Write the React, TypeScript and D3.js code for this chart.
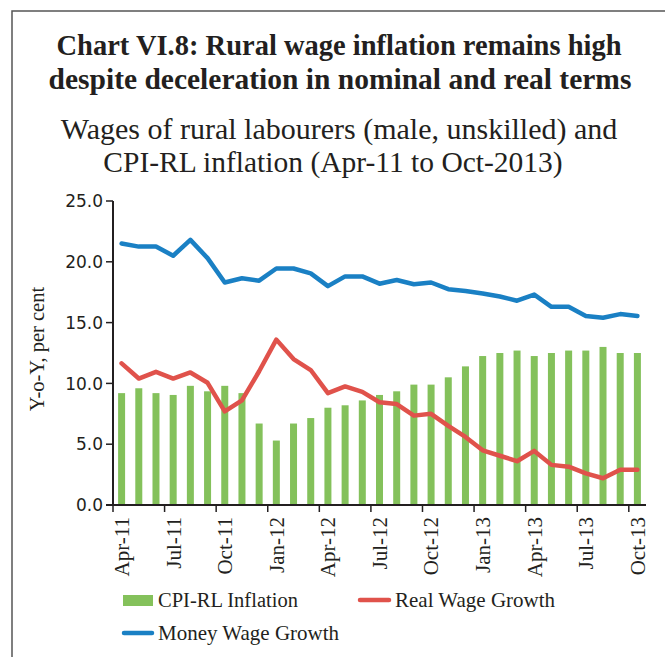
import React from "react";
import * as d3 from "d3";

const months = ["Apr-11","May-11","Jun-11","Jul-11","Aug-11","Sep-11","Oct-11","Nov-11","Dec-11","Jan-12","Feb-12","Mar-12","Apr-12","May-12","Jun-12","Jul-12","Aug-12","Sep-12","Oct-12","Nov-12","Dec-12","Jan-13","Feb-13","Mar-13","Apr-13","May-13","Jun-13","Jul-13","Aug-13","Sep-13","Oct-13"];
const cpiRL = [9.2,9.6,9.2,9.05,9.8,9.35,9.8,9.2,6.7,5.3,6.7,7.15,8.0,8.2,8.6,9.05,9.35,9.9,9.9,10.5,11.4,12.25,12.5,12.7,12.25,12.5,12.7,12.7,13.0,12.5,12.5];
const realWage = [11.65,10.4,10.95,10.4,10.9,10.05,7.7,8.6,11.0,13.6,12.0,11.1,9.2,9.75,9.3,8.45,8.3,7.35,7.5,6.5,5.6,4.5,4.05,3.6,4.45,3.3,3.15,2.6,2.2,2.9,2.9];
const moneyWage = [21.5,21.25,21.25,20.5,21.8,20.3,18.3,18.65,18.45,19.45,19.45,19.05,18.0,18.8,18.8,18.2,18.5,18.15,18.3,17.75,17.6,17.4,17.15,16.8,17.3,16.3,16.3,15.55,15.4,15.7,15.55];
const yTicks = [0, 5, 10, 15, 20, 25];

const GREEN = "#84c15b";
const RED = "#e0524b";
const BLUE = "#1a80c4";
const serif = "'Liberation Serif', 'DejaVu Serif', serif";
const sans = "'DejaVu Sans', Verdana, sans-serif";

export default function App() {
  const W = 665, H = 657;
  const x0 = 113, x1 = 646, yTop = 201, yBot = 505;
  const xb = d3.scaleBand<string>().domain(months).range([x0, x1]);
  const y = d3.scaleLinear().domain([0, 25]).range([yBot, yTop]);
  const cx = (m: string) => (xb(m) as number) + xb.bandwidth() / 2;
  const line = d3.line<number>().x((_, i) => cx(months[i])).y(d => y(d));
  const tickIdx = months.map((_, i) => i).filter(i => i % 3 === 0);

  return (
    <svg width={W} height={H} style={{ position: "absolute", left: 0, top: 0, background: "#fff" }}>
      <rect x={0} y={0} width={W} height={H} fill="#fff" />
      {/* frame */}
      <path d={`M12,${H} L12,11 L${W},11`} fill="none" stroke="#555" strokeWidth={1.5} />
      {/* titles */}
      <text x={339} y={55} textAnchor="middle" fontFamily={serif} fontWeight="bold" fontSize={28.5} fill="#231f20">Chart VI.8: Rural wage inflation remains high</text>
      <text x={340} y={89} textAnchor="middle" fontFamily={serif} fontWeight="bold" fontSize={29.5} fill="#231f20">despite deceleration in nominal and real terms</text>
      <text x={339} y={139} textAnchor="middle" fontFamily={serif} fontSize={30} fill="#231f20">Wages of rural labourers (male, unskilled) and</text>
      <text x={333} y={172} textAnchor="middle" fontFamily={serif} fontSize={29.5} fill="#231f20">CPI-RL inflation (Apr-11 to Oct-2013)</text>

      {/* bars */}
      {months.map((m, i) => (
        <rect key={m} x={cx(m) - 3.5} width={7} y={y(cpiRL[i])} height={yBot - y(cpiRL[i])} fill={GREEN} />
      ))}

      {/* lines */}
      <path d={line(realWage) as string} fill="none" stroke={RED} strokeWidth={4.5} strokeLinejoin="round" strokeLinecap="round" />
      <path d={line(moneyWage) as string} fill="none" stroke={BLUE} strokeWidth={4.5} strokeLinejoin="round" strokeLinecap="round" />

      {/* y axis */}
      <line x1={x0} x2={x0} y1={yTop} y2={yBot} stroke="#231f20" strokeWidth={2} />
      {yTicks.map(t => (
        <g key={t}>
          <line x1={x0 - 7} x2={x0} y1={y(t)} y2={y(t)} stroke="#231f20" strokeWidth={1.5} />
          <text x={x0 - 10} y={y(t)} dy="0.36em" textAnchor="end" fontFamily={sans} fontSize={17} fill="#231f20">{t.toFixed(1)}</text>
        </g>
      ))}
      <text transform={`translate(44,${(yTop + yBot) / 2 - 4}) rotate(-90)`} textAnchor="middle" fontFamily={serif} fontSize={20.5} fill="#231f20">Y-o-Y, per cent</text>

      {/* x axis */}
      <line x1={x0 - 7} x2={x1} y1={yBot} y2={yBot} stroke="#231f20" strokeWidth={2} />
      {tickIdx.map(i => (
        <line key={"t" + i} x1={xb(months[i]) as number} x2={xb(months[i]) as number} y1={yBot} y2={yBot + 7} stroke="#231f20" strokeWidth={1.5} />
      ))}
      {tickIdx.map(i => (
        <text key={"l" + i} transform={`translate(${cx(months[i])},${yBot + 12}) rotate(-90)`} dy="0.35em" textAnchor="end" fontFamily={serif} fontSize={21} fill="#231f20">{months[i]}</text>
      ))}

      {/* legend */}
      <rect x={123} y={595} width={30} height={11} fill={GREEN} />
      <text x={158} y={607} fontFamily={serif} fontSize={20.5} fill="#231f20">CPI-RL Inflation</text>
      <line x1={360} x2={389} y1={600} y2={600} stroke={RED} strokeWidth={4.5} strokeLinecap="round" />
      <text x={395} y={607} fontFamily={serif} fontSize={21} fill="#231f20">Real Wage Growth</text>
      <line x1={124} x2={152} y1={633} y2={633} stroke={BLUE} strokeWidth={4.5} strokeLinecap="round" />
      <text x={158} y={640} fontFamily={serif} fontSize={21} fill="#231f20">Money Wage Growth</text>
    </svg>
  );
}
